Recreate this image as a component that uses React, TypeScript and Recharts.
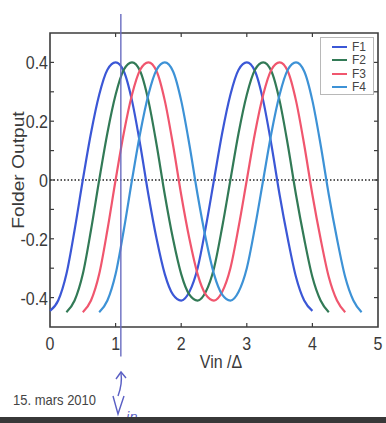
import React from "react";
import { LineChart, Line, XAxis, YAxis, ReferenceLine, ReferenceArea, Legend } from "recharts";

// ---- data ----
const seriesNames = ["F1", "F2", "F3", "F4"];
const seriesColors = ["#3b57d6", "#327a56", "#f0566e", "#3d92d6"];
const seriesStartX = [0, 0.25, 0.5, 0.75];
const sampleStep = 0.125;

const f1Values = [
  -0.445, -0.41, -0.32, -0.17, 0.0, 0.16, 0.29, 0.375, 0.4, 0.37, 0.27, 0.12, -0.05, -0.2, -0.32, -0.39, -0.41,
  -0.38, -0.3, -0.16, 0.0, 0.16, 0.29, 0.375, 0.4, 0.37, 0.27, 0.12, -0.05, -0.2, -0.33, -0.41, -0.445,
];
const f2Values = [
  -0.45, -0.41, -0.32, -0.17, 0.0, 0.16, 0.29, 0.375, 0.4, 0.37, 0.27, 0.12, -0.05, -0.2, -0.32, -0.39, -0.41,
  -0.38, -0.3, -0.16, 0.0, 0.16, 0.29, 0.375, 0.4, 0.37, 0.27, 0.12, -0.05, -0.2, -0.33, -0.41, -0.45,
];
const f3Values = [
  -0.45, -0.41, -0.32, -0.17, 0.0, 0.16, 0.29, 0.375, 0.4, 0.37, 0.27, 0.12, -0.05, -0.2, -0.32, -0.39, -0.41,
  -0.38, -0.3, -0.16, 0.0, 0.16, 0.29, 0.375, 0.4, 0.37, 0.27, 0.12, -0.05, -0.2, -0.33, -0.41, -0.45,
];
const f4Values = [
  -0.45, -0.41, -0.32, -0.17, 0.0, 0.16, 0.29, 0.375, 0.4, 0.37, 0.27, 0.12, -0.05, -0.2, -0.32, -0.39, -0.41,
  -0.38, -0.3, -0.16, 0.0, 0.16, 0.29, 0.375, 0.4, 0.37, 0.27, 0.12, -0.05, -0.2, -0.33, -0.41, -0.45,
];
const seriesValues = [f1Values, f2Values, f3Values, f4Values];

const xTicks = [0, 1, 2, 3, 4, 5];
const yTicks = [-0.5, -0.4, -0.3, -0.2, -0.1, 0, 0.1, 0.2, 0.3, 0.4, 0.5];
const yLabelledTicks = [-0.4, -0.2, 0, 0.2, 0.4];
const yTickText = ["-0.4", "-0.2", "0", "0.2", "0.4"];

const xTitle = "Vin /\u0394";
const yTitle = "Folder Output";
const dateText = "15. mars 2010";
const cursorX = 1.08;
const cursorYTop = 0.565;
const cursorYBottom = -0.6;

// ---- layout ----
const W = 386;
const H = 423;
const PLOT_LEFT = 50;
const PLOT_RIGHT = 378;
const PLOT_TOP = 33;
const PLOT_BOTTOM = 327;
const FONT = "'Liberation Sans', Arial, sans-serif";
const TEXT = "#3a3a3a";
const FRAME = "#3c3c3c";
const INK = "#5a5fc4";

const seriesData = seriesValues.map((vals, s) =>
  vals.map((y, i) => ({ x: seriesStartX[s] + i * sampleStep, y }))
);

const YTick = (props: any) => {
  const { y, payload } = props;
  const v = payload.value as number;
  const idx = yLabelledTicks.findIndex((t) => Math.abs(t - v) < 1e-9);
  const edge = Math.abs(Math.abs(v) - 0.5) < 1e-9;
  return (
    <g>
      {idx >= 0 && (
        <text
          transform={`translate(48,${y + 7}) scale(1,1.2)`}
          textAnchor="end"
          fontSize={16}
          fontFamily={FONT}
          fill={TEXT}
        >
          {yTickText[idx]}
        </text>
      )}
      {!edge && <line x1={PLOT_LEFT} x2={PLOT_LEFT + 4} y1={y} y2={y} stroke={FRAME} strokeWidth={1.2} />}
      {!edge && <line x1={PLOT_RIGHT} x2={PLOT_RIGHT - 4} y1={y} y2={y} stroke={FRAME} strokeWidth={1.2} />}
    </g>
  );
};

const XTick = (props: any) => {
  const { x, payload } = props;
  const v = payload.value as number;
  const edge = v === xTicks[0] || v === xTicks[xTicks.length - 1];
  return (
    <g>
      <text
        transform={`translate(${x},350) scale(1,1.2)`}
        textAnchor="middle"
        fontSize={16}
        fontFamily={FONT}
        fill={TEXT}
      >
        {String(v)}
      </text>
      {!edge && <line x1={x} x2={x} y1={PLOT_BOTTOM} y2={PLOT_BOTTOM - 4} stroke={FRAME} strokeWidth={1.2} />}
      {!edge && <line x1={x} x2={x} y1={PLOT_TOP} y2={PLOT_TOP + 4} stroke={FRAME} strokeWidth={1.2} />}
    </g>
  );
};

const LegendBox = () => (
  <div
    style={{
      width: 54,
      height: 58,
      boxSizing: "border-box",
      border: "1px solid #b8b8b8",
      background: "#fff",
      paddingTop: 2,
    }}
  >
    {seriesNames.map((n, i) => (
      <div key={n} style={{ height: 13.5, display: "flex", alignItems: "center" }}>
        <svg width={31} height={10} style={{ display: "block" }}>
          <line x1={11} x2={26} y1={5} y2={5} stroke={seriesColors[i]} strokeWidth={2} />
        </svg>
        <span
          style={{
            fontSize: 12,
            fontFamily: FONT,
            color: "#444",
            display: "inline-block",
            lineHeight: "12px",
          }}
        >
          {n}
        </span>
      </div>
    ))}
  </div>
);

export default function App() {
  return (
    <div style={{ position: "relative", width: W, height: H, background: "#fff", overflow: "hidden" }}>
      <style>{`body{margin:0;background:#fff}`}</style>
      <LineChart
        width={W}
        height={H}
        margin={{ top: PLOT_TOP, right: W - PLOT_RIGHT, bottom: H - PLOT_BOTTOM - 30, left: 0 }}
      >
        <XAxis
          type="number"
          dataKey="x"
          domain={[0, 5]}
          ticks={xTicks}
          interval={0}
          height={30}
          tickLine={false}
          axisLine={false}
          tick={<XTick />}
          allowDuplicatedCategory={false}
        />
        <YAxis
          type="number"
          domain={[-0.5, 0.5]}
          ticks={yTicks}
          interval={0}
          width={PLOT_LEFT}
          tickLine={false}
          axisLine={false}
          tick={<YTick />}
          allowDataOverflow
        />
        <ReferenceLine y={0} stroke="#222" strokeWidth={1.3} strokeDasharray="1.5 2" />
        {seriesNames.map((n, i) => (
          <Line
            key={n}
            data={seriesData[i]}
            dataKey="y"
            name={n}
            type="monotone"
            stroke={seriesColors[i]}
            strokeWidth={2.2}
            dot={false}
            activeDot={false}
            isAnimationActive={false}
          />
        ))}
        <ReferenceArea
          x1={0}
          x2={5}
          y1={-0.5}
          y2={0.5}
          fill="none"
          fillOpacity={0}
          stroke={FRAME}
          strokeWidth={1.6}
          ifOverflow="visible"
        />
        <ReferenceLine
          segment={[
            { x: cursorX, y: cursorYTop },
            { x: cursorX, y: cursorYBottom },
          ]}
          stroke="#6a6cc0"
          strokeWidth={1.4}
          ifOverflow="visible"
        />
        <Legend
          layout="vertical"
          align="center"
          verticalAlign="middle"
          content={<LegendBox />}
          wrapperStyle={{ position: "absolute", left: 320, top: 37, width: 54, height: 58 }}
        />
      </LineChart>
      <svg
        width={W}
        height={H}
        style={{ position: "absolute", left: 0, top: 0, pointerEvents: "none" }}
      >
        <text
          transform="translate(24,170) rotate(-90) scale(1.2,1)"
          textAnchor="middle"
          fontSize={16}
          fontFamily={FONT}
          fill={TEXT}
        >
          {yTitle}
        </text>
        <text
          transform="translate(221,368) scale(1,1.2)"
          textAnchor="middle"
          fontSize={16}
          fontFamily={FONT}
          fill={TEXT}
        >
          {xTitle}
        </text>
        <text transform="translate(13,405) scale(1,1.15)" fontSize={13} fontFamily={FONT} fill="#444">
          {dateText}
        </text>
        <path d="M118,396 C121,388 122,380 121,373" stroke={INK} strokeWidth={1.4} fill="none" />
        <path d="M116,379 L121,372 L126,378" stroke={INK} strokeWidth={1.4} fill="none" />
        <path d="M113,396 L118,414 L124,396" stroke={INK} strokeWidth={1.4} fill="none" />
        <text x={126} y={421} fontSize={13} fontStyle="italic" fontFamily="'DejaVu Sans', sans-serif" fill={INK}>
          in
        </text>
        <rect x={0} y={417} width={W} height={6} fill="#383838" />
      </svg>
    </div>
  );
}
